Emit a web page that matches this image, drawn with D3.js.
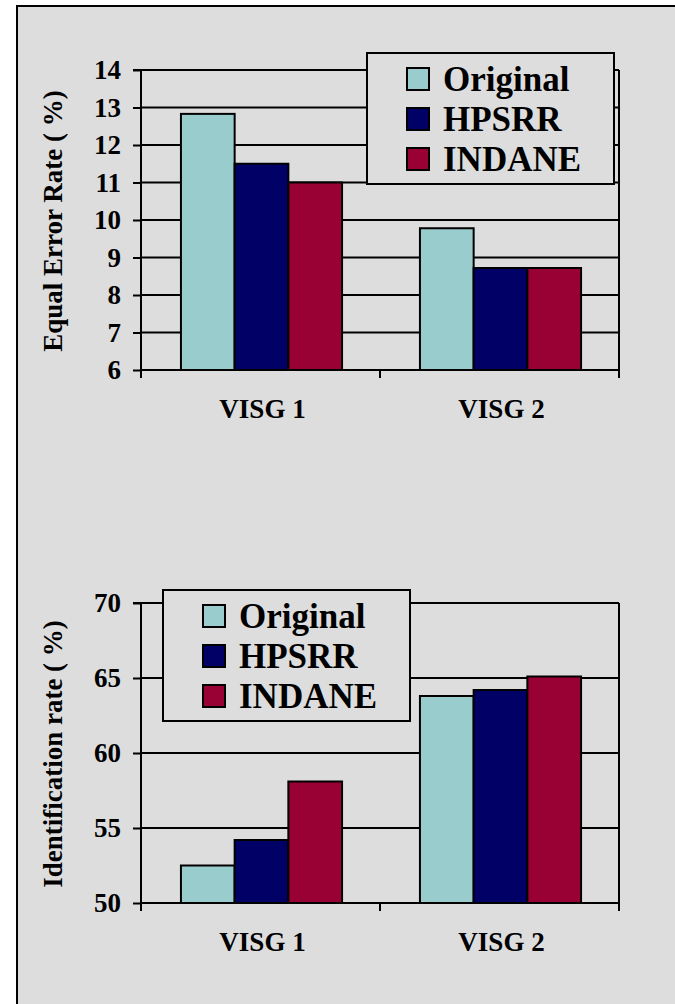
<!DOCTYPE html>
<html>
<head>
<meta charset="utf-8">
<script src="https://cdn.jsdelivr.net/npm/d3@7"></script>
<style>
  html, body { margin: 0; padding: 0; background: #ffffff; }
  svg { display: block; }
  svg text { font-family: "Liberation Serif", "Times New Roman", serif !important; font-weight: bold !important; fill: #000; }
</style>
</head>
<body>
<svg id="chart" width="675" height="1004"></svg>
<script>
// ---- data ----
const categories = ["VISG 1", "VISG 2"];
const seriesNames = ["Original", "HPSRR", "INDANE"];
const seriesColors = ["#99cccc", "#000066", "#990033"];

// Chart 1: Equal Error Rate (%)
const eerOriginal = [12.83, 9.78];
const eerHPSRR = [11.5, 8.72];
const eerINDANE = [11.0, 8.72];
const eerTicks = [6, 7, 8, 9, 10, 11, 12, 13, 14];

// Chart 2: Identification rate (%)
const idrOriginal = [52.5, 63.8];
const idrHPSRR = [54.2, 64.2];
const idrINDANE = [58.1, 65.1];
const idrTicks = [50, 55, 60, 65, 70];

const FONT = '"Liberation Serif", "Times New Roman", serif';
const svg = d3.select("#chart");

// background frame
svg.append("rect")
  .attr("x", 17).attr("y", 6)
  .attr("width", 700).attr("height", 1100)
  .attr("fill", "#dddddd")
  .attr("stroke", "#000").attr("stroke-width", 2);

function drawChart(cfg) {
  const g = svg.append("g");
  const x0 = d3.scaleBand().domain(categories).range([cfg.left, cfg.right]).paddingInner(0).paddingOuter(0);
  const x1 = d3.scaleBand().domain(seriesNames).range([0, x0.bandwidth()]).paddingInner(0).paddingOuter(0.725);
  const y = d3.scaleLinear().domain(cfg.domain).range([cfg.bottom, cfg.top]);

  // gridlines
  g.append("g").selectAll("line")
    .data(cfg.ticks.slice(1))
    .join("line")
    .attr("x1", cfg.left).attr("x2", cfg.right)
    .attr("y1", d => y(d)).attr("y2", d => y(d))
    .attr("stroke", "#000").attr("stroke-width", 2);

  // right border
  g.append("line")
    .attr("x1", cfg.right).attr("x2", cfg.right)
    .attr("y1", y(cfg.domain[1])).attr("y2", y(cfg.domain[0]))
    .attr("stroke", "#000").attr("stroke-width", 2);

  // bars
  const table = categories.map((c, i) => ({
    cat: c,
    vals: seriesNames.map((s, j) => ({ s, v: cfg.series[j][i], color: seriesColors[j] }))
  }));
  const groups = g.append("g").selectAll("g")
    .data(table).join("g")
    .attr("transform", d => `translate(${x0(d.cat) + 1},0)`);
  groups.selectAll("rect")
    .data(d => d.vals).join("rect")
    .attr("x", d => x1(d.s))
    .attr("width", x1.bandwidth())
    .attr("y", d => y(d.v))
    .attr("height", d => y(cfg.domain[0]) - y(d.v))
    .attr("fill", d => d.color)
    .attr("stroke", "#000").attr("stroke-width", 2);

  // y axis
  const yAxis = d3.axisLeft(y).tickValues(cfg.ticks).tickSize(8).tickPadding(12).tickFormat(d3.format("d"));
  const ya = g.append("g").attr("transform", `translate(${cfg.left},0)`).call(yAxis)
    .attr("font-family", FONT).attr("font-size", 27);
  ya.select(".domain").attr("stroke", "#000").attr("stroke-width", 2).attr("d", `M-8,${y(cfg.domain[1])}H0V${y(cfg.domain[0])}`);
  ya.selectAll(".tick line").attr("stroke", "#000").attr("stroke-width", 2);
  ya.selectAll(".tick text")
    .style("font-family", FONT)
    .style("font-weight", "bold").style("font-size", "27px").attr("fill", "#000");

  // x axis baseline
  g.append("line")
    .attr("x1", cfg.left).attr("x2", cfg.right)
    .attr("y1", y(cfg.domain[0])).attr("y2", y(cfg.domain[0]))
    .attr("stroke", "#000").attr("stroke-width", 2);
  // category boundary ticks
  const bounds = [x0(categories[0])].concat(categories.map(c => x0(c) + x0.bandwidth()));
  g.append("g").selectAll("line")
    .data(bounds).join("line")
    .attr("x1", d => d).attr("x2", d => d)
    .attr("y1", y(cfg.domain[0])).attr("y2", y(cfg.domain[0]) + 8)
    .attr("stroke", "#000").attr("stroke-width", 2);
  // category labels
  g.append("g").selectAll("text")
    .data(categories).join("text")
    .attr("x", d => x0(d) + x0.bandwidth() / 2 + 2)
    .attr("y", y(cfg.domain[0]) + 48)
    .attr("text-anchor", "middle")
    .style("font-family", FONT).style("font-weight", "bold").style("font-size", "27px")
    .text(d => d);

  // y title
  g.append("text")
    .attr("transform", `translate(62,${(cfg.top + cfg.bottom) / 2 + 1}) rotate(-90)`)
    .attr("text-anchor", "middle")
    .style("font-family", FONT).style("font-weight", "bold").style("font-size", "27px")
    .text(cfg.title);

  // legend
  const lg = g.append("g").attr("transform", `translate(${cfg.legendX},${cfg.legendY})`);
  lg.append("rect")
    .attr("width", 247).attr("height", 131)
    .attr("fill", "#dddddd").attr("stroke", "#000").attr("stroke-width", 2);
  const rows = lg.selectAll("g.row").data(seriesNames).join("g")
    .attr("class", "row")
    .attr("transform", (d, i) => `translate(0,${26 + i * 40})`);
  rows.append("rect")
    .attr("x", 40).attr("y", -11)
    .attr("width", 22).attr("height", 22)
    .attr("fill", (d, i) => seriesColors[i])
    .attr("stroke", "#000").attr("stroke-width", 2);
  rows.append("text")
    .attr("x", 76).attr("y", 12)
    .style("font-family", FONT).style("font-weight", "bold").style("font-size", "35px")
    .text(d => d);
}

drawChart({
  left: 141, right: 619, top: 70, bottom: 370,
  domain: [6, 14], ticks: eerTicks,
  series: [eerOriginal, eerHPSRR, eerINDANE],
  title: "Equal Error Rate ( %)",
  legendX: 367, legendY: 53
});

drawChart({
  left: 141, right: 619, top: 603, bottom: 903,
  domain: [50, 70], ticks: idrTicks,
  series: [idrOriginal, idrHPSRR, idrINDANE],
  title: "Identification rate ( %)",
  legendX: 163, legendY: 590
});
</script>
</body>
</html>
